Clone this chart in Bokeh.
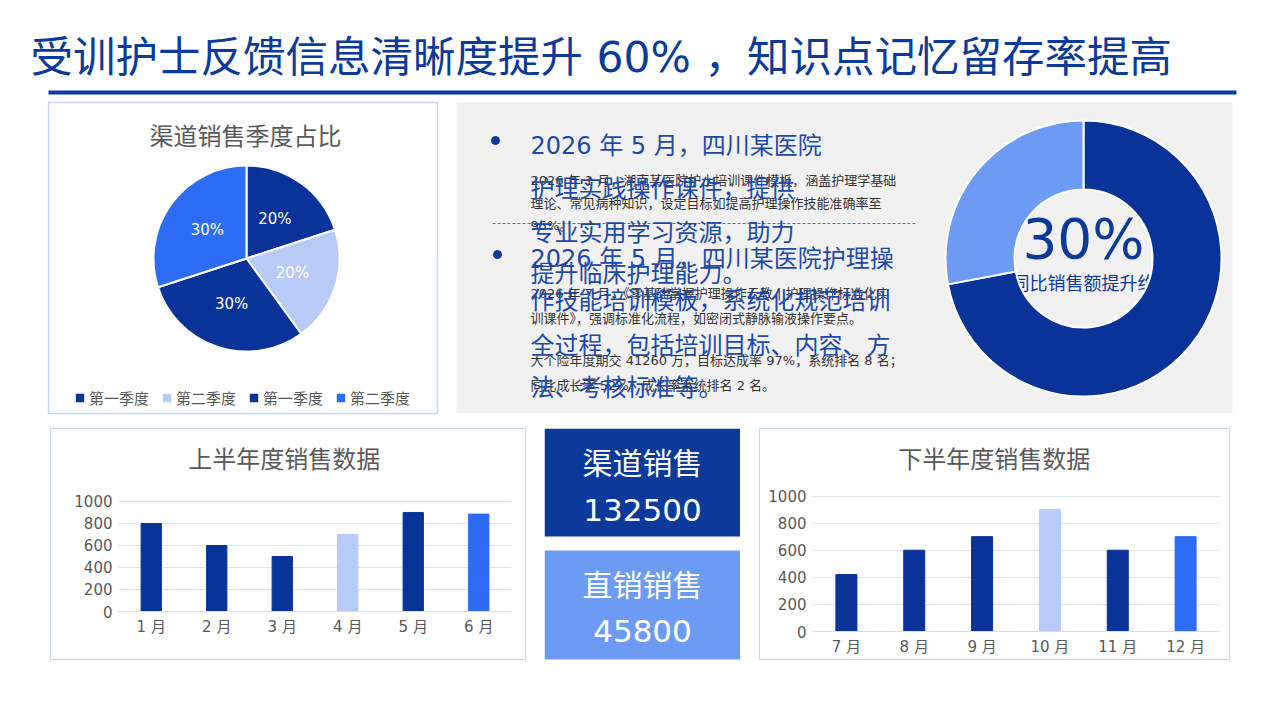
import numpy as np
from bokeh.core.properties import value
from bokeh.embed import file_html
from bokeh.layouts import column, row, Spacer
from bokeh.models import ColumnDataSource, FactorRange, FixedTicker, Legend, LegendItem, Range1d
from bokeh.plotting import figure
from bokeh.resources import INLINE
from bokeh.transform import dodge

# --- data ---
page_title = "受训护士反馈信息清晰度提升 60% ，知识点记忆留存率提高"

quarters = ["第一季度", "第二季度", "第一季度", "第二季度"]
quarter_share = [20, 20, 30, 30]

growth_share = [72, 28]
growth_text = "30%"
growth_caption = "同比销售额提升约"

bullet_lines = [
    ["2026 年 5 月，四川某医院", "护理实践操作课件，提供", "专业实用学习资源，助力", "提升临床护理能力。"],
    ["2026 年 5 月，四川某医院护理操", "作技能培训模板，系统化规范培训", "全过程，包括培训目标、内容、方", "法、考核标准等。"],
]
note_lines = [
    ["2026 年 1 月，湖南某医院护士培训课件模板，涵盖护理学基础", "理论、常见病种知识，设定目标如提高护理操作技能准确率至", "95%。"],
    ["2026 年 7 月，《零基础掌握护理操作云教 | 护理操作标准化实", "训课件》，强调标准化流程，如密闭式静脉输液操作要点。"],
    ["大个险年度期交 41260 万，目标达成率 97%，系统排名 8 名；", "同比成长率 52%，成长率系统排名 2 名。"],
]

kpi_labels = ["渠道销售", "直销销售"]
kpi_values = [132500, 45800]

h1_months = ["1 月", "2 月", "3 月", "4 月", "5 月", "6 月"]
h1_sales = [800, 600, 500, 700, 900, 885]
h2_months = ["7 月", "8 月", "9 月", "10 月", "11 月", "12 月"]
h2_sales = [420, 600, 700, 900, 600, 700]

# --- styles ---
FONT_NAME = "DejaVu Sans, Noto Sans CJK SC"
FONT = value(FONT_NAME)
DARK = "#0a3399"
LIGHT = "#b7cbf6"
BRIGHT = "#2d6cf5"
MIDBLUE = "#6d9bf3"
GRAY = "#595959"
NAVY = "#0b3a9a"
TEXT_BLUE = "#1d4aa8"
BORDER = "#c8d5f5"

quarter_colors = [DARK, LIGHT, DARK, BRIGHT]
month_colors = [DARK, DARK, DARK, LIGHT, DARK, BRIGHT]

W, H = 1264, 428


def Y(v):
    return H - v


top = figure(width=W, height=H, x_range=Range1d(0, W), y_range=Range1d(0, H),
             x_axis_location=None, y_axis_location=None, toolbar_location=None,
             output_backend="svg", min_border=0, outline_line_color=None, frame_align=False)
top.grid.visible = False

# header
top.text(x=[30], y=[Y(57)], text=[page_title], text_font=FONT, text_font_size="42.5px",
         text_color=NAVY, text_baseline="middle")
top.segment(x0=[48], y0=[Y(92)], x1=[1236], y1=[Y(92)], line_width=4, line_color=NAVY)

# panels
top.quad(left=[48], right=[437], top=[Y(102)], bottom=[Y(413)], fill_color="white",
         line_color=BORDER, line_width=1.5)
top.quad(left=[456], right=[1232], top=[Y(102)], bottom=[Y(413)], fill_color="#f1f1f1",
         line_color=None)

# pie
top.text(x=[245], y=[Y(136)], text=["渠道销售季度占比"], text_font=FONT, text_font_size="24px",
         text_color=GRAY, text_align="center", text_baseline="middle")
cx, cy, r = 246, Y(258), 93
frac = np.array(quarter_share) / sum(quarter_share)
cum = np.concatenate([[0], np.cumsum(frac)])
start = np.pi / 2 - 2 * np.pi * cum[:-1]
end = np.pi / 2 - 2 * np.pi * cum[1:]
mid = (start + end) / 2
pie_src = ColumnDataSource(dict(start=start, end=end, color=quarter_colors,
                                lx=cx + 0.52 * r * np.cos(mid), ly=cy + 0.52 * r * np.sin(mid),
                                pct=[f"{v}%" for v in quarter_share]))
pie = top.wedge(x=cx, y=cy, radius=r, start_angle="start", end_angle="end", direction="clock",
                fill_color="color", line_color="white", line_width=2, source=pie_src)
top.text(x="lx", y="ly", text="pct", source=pie_src, text_font=FONT, text_font_size="15px",
         text_color="white", text_align="center", text_baseline="middle")
legend = Legend(items=[LegendItem(label=q, renderers=[pie], index=i) for i, q in enumerate(quarters)],
                location=(73, 20), orientation="horizontal", glyph_width=13, glyph_height=13,
                label_standoff=3, spacing=11, padding=0, margin=0, border_line_color=None,
                background_fill_alpha=0, label_text_font_size="15px", label_text_color=GRAY,
                label_text_font=FONT_NAME, label_height=16)
top.add_layout(legend)

# middle text block
tx = 530
note_y = [[180, 203, 225], [293, 318], [360, 385]]
for lines, ys in zip(note_lines, note_y):
    top.text(x=[tx] * len(lines), y=[Y(v) for v in ys], text=lines, text_font=FONT,
             text_font_size="13px", text_color="#333333", text_baseline="middle")
top.segment(x0=[492], y0=[Y(223)], x1=[917], y1=[Y(223)], line_color="#4a6fc0",
            line_width=1, line_dash="3 2")
bullet_y = [[145, 188, 232, 273], [258, 300, 345, 387]]
top.scatter(x=[495, 497], y=[Y(140), Y(254)], size=8, color=NAVY)
for lines, ys in zip(bullet_lines, bullet_y):
    top.text(x=[tx] * len(lines), y=[Y(v) for v in ys], text=lines, text_font=FONT,
             text_font_size="24px", text_color=TEXT_BLUE, text_baseline="middle")

# donut (caption sits beneath the ring)
dx, dy = 1083, Y(258)
top.text(x=[dx], y=[Y(238)], text=[growth_text], text_font=FONT, text_font_size="55px",
         text_color=NAVY, text_align="center", text_baseline="middle")
top.text(x=[dx], y=[Y(283)], text=[growth_caption], text_font=FONT, text_font_size="18px",
         text_color=NAVY, text_align="center", text_baseline="middle")
gfrac = np.array(growth_share) / sum(growth_share)
gcum = np.concatenate([[0], np.cumsum(gfrac)])
top.annular_wedge(x=dx, y=dy, inner_radius=69, outer_radius=138,
                  start_angle=np.pi / 2 - 2 * np.pi * gcum[:-1],
                  end_angle=np.pi / 2 - 2 * np.pi * gcum[1:], direction="clock",
                  fill_color=[DARK, MIDBLUE], line_color="white", line_width=2)

# KPI boxes
KH = 233
kpi = figure(width=196, height=KH, x_range=Range1d(0, 196), y_range=Range1d(0, KH),
             x_axis_location=None, y_axis_location=None, toolbar_location=None,
             output_backend="svg", min_border=0, outline_line_color=None, frame_align=False)
kpi.grid.visible = False
kpi.quad(left=[0, 0], right=[196, 196], top=[KH - 0, KH - 122], bottom=[KH - 108, KH - 231],
         fill_color=[NAVY, MIDBLUE], line_color=None)
kpi.text(x=[98, 98], y=[KH - 35, KH - 157], text=kpi_labels, text_font=FONT, text_font_size="30px",
         text_color="white", text_align="center", text_baseline="middle")
kpi.text(x=[98, 98], y=[KH - 81, KH - 202], text=[str(v) for v in kpi_values], text_font=FONT,
         text_font_size="31px", text_color="white", text_align="center", text_baseline="middle")


def bar_panel(title, months, sales, width, left, right, bottom, y_end, title_y, anchor, shift):
    # frame starts at the canvas top; the y range runs past 1000 to leave room for the title
    p = figure(width=width, height=230, x_range=FactorRange(*months), y_range=Range1d(0, y_end),
               toolbar_location=None, output_backend="svg", frame_align=False,
               min_border_left=left, min_border_right=right, min_border_top=0,
               min_border_bottom=bottom, outline_line_color=None)
    p.vbar(x=months, top=sales, width=0.31, color=month_colors)
    src = ColumnDataSource(dict(m=[anchor], y=[title_y], t=[title]))
    p.text(x=dodge("m", shift, range=p.x_range), y="y", text="t", source=src, text_font=FONT,
           text_font_size="24px", text_color=GRAY, text_align="center", text_baseline="middle")
    p.yaxis.ticker = FixedTicker(ticks=[0, 200, 400, 600, 800, 1000])
    p.yaxis.axis_line_color = None
    p.axis.major_tick_line_color = None
    p.axis.major_tick_out = 0
    p.axis.major_tick_in = 0
    p.axis.minor_tick_line_color = None
    p.axis.major_label_text_font = FONT_NAME
    p.axis.major_label_text_font_size = "15px"
    p.axis.major_label_text_color = GRAY
    p.yaxis.major_label_standoff = 6
    p.xaxis.major_label_standoff = 6
    p.xaxis.axis_line_color = "#d9dde6"
    p.xgrid.grid_line_color = None
    p.ygrid.grid_line_color = "#dfe3ea"
    p.x_range.range_padding = 0
    return column(p, styles={"border": f"1.5px solid {BORDER}"})


panel1 = bar_panel("上半年度销售数据", h1_months, h1_sales, 474, 67, 14, 48, 1654, 1377, "3 月", 0.03)
panel2 = bar_panel("下半年度销售数据", h2_months, h2_sales, 469, 52, 10, 28, 1491, 1266, "9 月", 0.18)

layout = column(
    top,
    row(Spacer(width=50, height=233), panel1, Spacer(width=18, height=233), kpi,
        Spacer(width=19, height=233), panel2),
)

open("out.html", "w").write(file_html(layout, INLINE))
